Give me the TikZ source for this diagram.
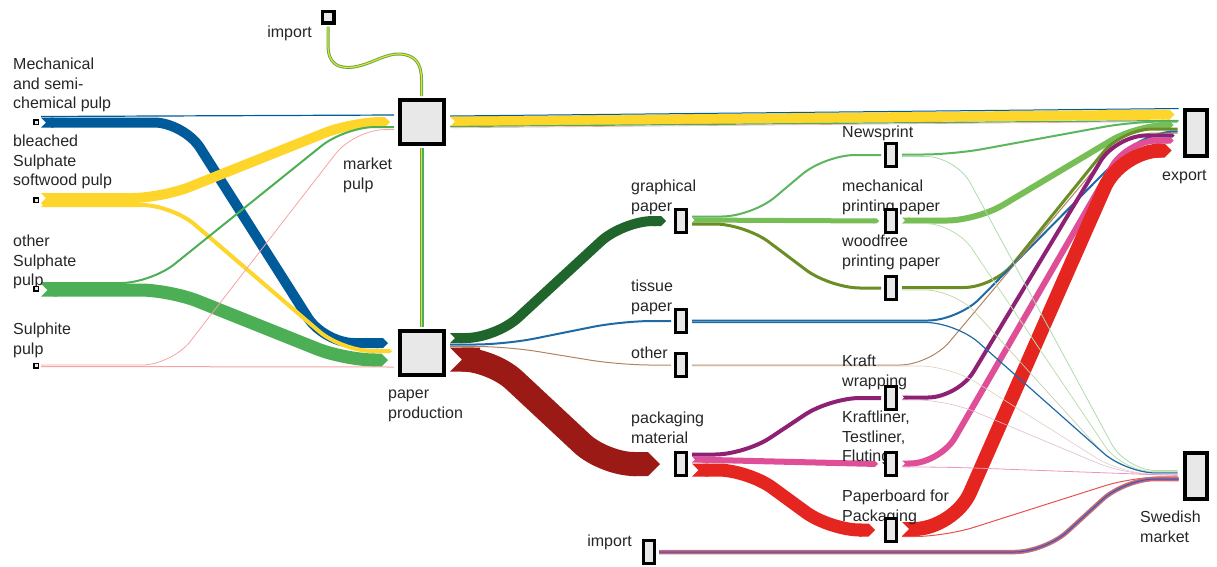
\documentclass[tikz,border=0pt]{standalone}
\usepackage{fontspec}
\setmainfont{Liberation Sans}
\usetikzlibrary{arrows.meta,backgrounds,calc}

\definecolor{cblue}{HTML}{005B9A}
\definecolor{cyellow}{HTML}{FDD52B}
\definecolor{cgreen}{HTML}{4DAF55}
\definecolor{cpinklt}{HTML}{F5A3A3}
\definecolor{cdkgreen}{HTML}{20652C}
\definecolor{ctissue}{HTML}{1E6AA6}
\definecolor{cbrown}{HTML}{B08460}
\definecolor{cdkred}{HTML}{9C1A16}
\definecolor{cnews}{HTML}{5BB65E}
\definecolor{cmech}{HTML}{78BE56}
\definecolor{colive}{HTML}{6A8E24}
\definecolor{cpurple}{HTML}{8E2174}
\definecolor{cpink}{HTML}{DE4F98}
\definecolor{cred}{HTML}{E42520}
\definecolor{cbox}{HTML}{E8E8E8}

\newcommand\sankeyfont{\fontsize{16}{19.5}\selectfont}

\tikzset{
  hub/.style={draw=black, line width=4pt, fill=cbox, inner sep=0pt, minimum size=44pt},
  sink/.style={draw=black, line width=4pt, fill=cbox, inner sep=0pt, minimum width=22pt, minimum height=46pt},
  bar/.style={draw=black, line width=3pt, fill=cbox, inner sep=0pt, minimum width=11pt, minimum height=23pt},
  dot/.style={draw=black, line width=1.5pt, fill=cbox, inner sep=0pt, minimum size=4.5pt},
  lbl/.style={anchor=north west, inner sep=0pt, align=left, font=\sankeyfont, text=black!85,
    execute at begin node={\rule{0pt}{12pt}}},
  flow/.style 2 args={draw=#1, line width=#2pt, rounded corners=30pt},
  capped/.style={{Triangle Cap[reversed]}-{Triangle Cap[]}},
}

\begin{document}
\begin{tikzpicture}[x=1pt,y=-1pt]
  \useasboundingbox (0,0) rectangle (1217,566);
  % sources
  \node[dot] (ms) at (36,122) {};
  \node[dot] (bs) at (36,200) {};
  \node[dot] (os) at (36,288.5) {};
  \node[dot] (ss) at (36,365.5) {};
  \node[draw=black, line width=3.5pt, fill=cbox, inner sep=0pt, minimum size=11.5pt] (imt) at (328,17) {};
  \node[bar] (imb) at (649,552) {};
  % hubs
  \node[hub] (mp) at (422,122) {};
  \node[hub] (pp) at (422,353) {};
  % paper grades
  \node[bar] (gp) at (681,221) {};
  \node[bar] (tp) at (681,321) {};
  \node[bar] (ot) at (681,365) {};
  \node[bar] (pm) at (681,464) {};
  \node[bar] (ns) at (891,155) {};
  \node[bar] (mpp) at (891,221) {};
  \node[bar] (wpp) at (891,288) {};
  \node[bar] (kw) at (891,398) {};
  \node[bar] (kl) at (891,464) {};
  \node[bar] (pb) at (891,530) {};
  % sinks
  \node[sink] (ex) at (1195.5,133) {};
  \node[sink] (sm) at (1195.5,475.5) {};

  \begin{pgfonlayer}{background}
    % pulp into market pulp and paper production
    \draw[flow={cblue}{1.2}] ($(ms.east)+(2,-5.5)$) -- ($(mp.west)+(-4,-7)$);
    \draw[flow={cblue}{10},capped] ($(ms.east)+(2,0.5)$) -- (184,122.5) -- (324,343) -- ($(pp.west)+(-10,-10)$);
    \draw[flow={cyellow}{10},capped] ($(bs.east)+(2,-2)$) -- (162,198) -- (352,122) -- ($(mp.west)+(-8,0)$);
    \draw[flow={cyellow}{4},capped] ($(bs.east)+(2,5)$) -- (172,205) -- (342,351) -- ($(pp.west)+(-6,-2)$);
    \draw[flow={cgreen}{2}] ($(os.east)+(2,-5.5)$) -- (151,283) -- (345,127) -- ($(mp.west)+(-4,5)$);
    \draw[flow={cgreen}{13},capped] ($(os.east)+(2,1.5)$) -- (170,290) -- (345,360) -- ($(pp.west)+(-10,7)$);
    \draw[flow={cpinklt}{0.8}] ($(ss.east)+(2,-0.5)$) -- (172,365) -- (354,130) -- ($(mp.west)+(-4,7.5)$);
    \draw[flow={cpinklt}{1}] ($(ss.east)+(2,1)$) -- ($(pp.west)+(-4,14)$);
    % import of pulp
    \foreach \c/\w in {cgreen/3,cyellow/1.2}
      \draw[flow={\c}{\w},sharp corners] ($(imt.south)+(0,2)$) -- (328,45)
        .. controls (328,64) and (338,69) .. (354,67)
        .. controls (372,64) and (386,53) .. (400,54)
        .. controls (415,55) and (421.5,63) .. (421.5,80) -- ($(mp.north)+(-0.5,-2)$);
    % market pulp
    \draw[flow={cyellow}{10},capped] ($(mp.east)+(4,-0.5)$) -- ($(ex.west)+(-8,-18.5)$);
    \draw[flow={cblue}{1}] ($(mp.east)+(4,-6)$) -- ($(ex.west)+(-4,-24.5)$);
    \draw[flow={cgreen}{1.2}] ($(mp.east)+(4,4.5)$) -- ($(ex.west)+(-4,-12.5)$);
    \draw[flow={cpinklt}{0.6}] ($(mp.east)+(4,5.8)$) -- ($(ex.west)+(-4,-11.6)$);
    \foreach \c/\w in {cgreen/4,cyellow/1.8}
      \draw[flow={\c}{\w}] ($(mp.south)+(-0.5,2)$) -- ($(pp.north)+(-0.5,-2)$);
    % paper production
    \draw[flow={cdkgreen}{10},capped] ($(pp.east)+(4,-15)$) -- (496,338) -- (623,221) -- ($(gp.west)+(-8,0)$);
    \draw[flow={ctissue}{2}] ($(pp.east)+(4,-8.5)$) -- (505,344.5) -- (622,321) -- ($(tp.west)+(-3,0)$);
    \draw[flow={cbrown}{1}] ($(pp.east)+(4,-6.5)$) -- (507,346.5) -- (620,365) -- ($(ot.west)+(-3,0)$);
    \draw[flow={cdkred}{24},capped] ($(pp.east)+(4,6.5)$) -- (492,359.5) -- (604,464) -- ($(pm.west)+(-14,0)$);
    % graphical paper
    \draw[flow={cnews}{2}] ($(gp.east)+(4,-4.5)$) -- (752,216.5) -- (825,155) -- ($(ns.west)+(-3,0)$);
    \draw[flow={cmech}{5},capped] ($(gp.east)+(4,-1)$) -- ($(mpp.west)+(-5,0)$);
    \draw[flow={colive}{3}] ($(gp.east)+(4,3)$) -- (745,224) -- (830,288) -- ($(wpp.west)+(-3,0)$);
    % packaging material
    \draw[flow={cpurple}{4}] ($(pm.east)+(4,-9.5)$) -- (745,454.5) -- (830,398) -- ($(kw.west)+(-3,0)$);
    \draw[flow={cpink}{6},capped] ($(pm.east)+(4,-4.5)$) -- ($(kl.west)+(-6,0)$);
    \draw[flow={cred}{13},capped] ($(pm.east)+(4,6)$) -- (748,470) -- (830,530) -- ($(pb.west)+(-9,0)$);
    % to export
    \draw[flow={cnews}{2}] ($(ns.east)+(4,-0.5)$) -- (953,154.5) -- (1133,121.5) -- ($(ex.west)+(-5,-11.5)$);
    \draw[flow={cmech}{6},capped] ($(mpp.east)+(4,-0.5)$) -- (977,220.5) -- (1137,125) -- ($(ex.west)+(-9,-8)$);
    \draw[flow={colive}{3}] ($(wpp.east)+(4,-0.5)$) -- (994,287.5) -- (1122,129) -- ($(ex.west)+(-5,-4)$);
    \draw[flow={ctissue}{2}] ($(tp.east)+(4,-0.5)$) -- (958,320.5) -- (1145,131.5) -- ($(ex.west)+(-5,-1.5)$);
    \draw[flow={cbrown}{1}] ($(ot.east)+(4,0)$) -- (930,365) -- (1125,133) -- ($(ex.west)+(-5,0)$);
    \draw[flow={cpurple}{4},capped] ($(kw.east)+(4,-0.5)$) -- (958,397.5) -- (1116,135.5) -- ($(ex.west)+(-8,2.5)$);
    \draw[flow={cpink}{6},capped] ($(kl.east)+(4,-0.5)$) -- (940,463.5) -- (1127,140.5) -- ($(ex.west)+(-9,7.5)$);
    \draw[flow={cred}{14},capped,rounded corners=40pt] ($(pb.east)+(4,-1)$) -- (954,529) -- (1121,150.5) -- ($(ex.west)+(-11,17.5)$);
    % to Swedish market
    \draw[flow={cnews!50}{0.8}] ($(ns.east)+(4,1.5)$) -- (956,156.5) -- (1126,470.5) -- ($(sm.west)+(-5,-5)$);
    \draw[flow={cmech!50}{0.8}] ($(mpp.east)+(4,2.5)$) -- (955,223.5) -- (1122,471.3) -- ($(sm.west)+(-5,-4.2)$);
    \draw[flow={colive!40}{0.7}] ($(wpp.east)+(4,2)$) -- (955,290) -- (1120,472) -- ($(sm.west)+(-5,-3.5)$);
    \draw[flow={ctissue}{1.2}] ($(tp.east)+(4,1.5)$) -- (956,322.5) -- (1126,473) -- ($(sm.west)+(-5,-2.5)$);
    \draw[flow={cbrown!40}{0.6}] ($(ot.east)+(4,1)$) -- (950,366) -- (1122,474) -- ($(sm.west)+(-5,-1.5)$);
    \draw[flow={cpurple!30}{0.6}] ($(kw.east)+(4,2)$) -- (947,400) -- (1125,474.6) -- ($(sm.west)+(-5,-0.9)$);
    \draw[flow={cpink!60}{0.8}] ($(kl.east)+(4,3)$) -- (947,467) -- ($(sm.west)+(-5,0)$);
    \draw[flow={cred!80}{1}] ($(pb.east)+(4,6.5)$) -- (945,536.5) -- (1133,476.8) -- ($(sm.west)+(-5,1.3)$);
    \foreach \c/\w in {cbrown/4.5,cpink/3,ctissue/1}
      \draw[flow={\c}{\w}] ($(imb.east)+(3,0)$) -- (1045,552) -- (1125,479) -- ($(sm.west)+(-4,3.5)$);
    % labels
    \node[lbl] (ms-l) at (13,58) {Mechanical\\and semi-\\chemical pulp};
    \node[lbl] (bs-l) at (13,135) {bleached\\Sulphate\\softwood pulp};
    \node[lbl] (os-l) at (13,235) {other\\Sulphate\\pulp};
    \node[lbl] (ss-l) at (13,323) {Sulphite\\pulp};
    \node[lbl,anchor=north east] (imt-l) at (312,25) {import};
    \node[lbl] (mp-l) at (343,158) {market\\pulp};
    \node[lbl] (pp-l) at (388,390) {paper\\production};
    \node[lbl] (gp-l) at (631,180) {graphical\\paper};
    \node[lbl] (tp-l) at (631,280) {tissue\\paper};
    \node[lbl] (ot-l) at (631,346) {other};
    \node[lbl] (pm-l) at (631,412) {packaging\\material};
    \node[lbl] (ns-l) at (842,125) {Newsprint};
    \node[lbl] (mpp-l) at (842,180) {mechanical\\printing paper};
    \node[lbl] (wpp-l) at (842,235) {woodfree\\printing paper};
    \node[lbl] (kw-l) at (842,355) {Kraft\\wrapping};
    \node[lbl] (kl-l) at (842,411) {Kraftliner,\\Testliner,\\Fluting};
    \node[lbl] (pb-l) at (842,490) {Paperboard for\\Packaging};
    \node[lbl] (ex-l) at (1162,168) {export};
    \node[lbl] (sm-l) at (1140,511) {Swedish\\market};
    \node[lbl,anchor=north east] (imb-l) at (632,534) {import};
  \end{pgfonlayer}
\end{tikzpicture}
\end{document}
